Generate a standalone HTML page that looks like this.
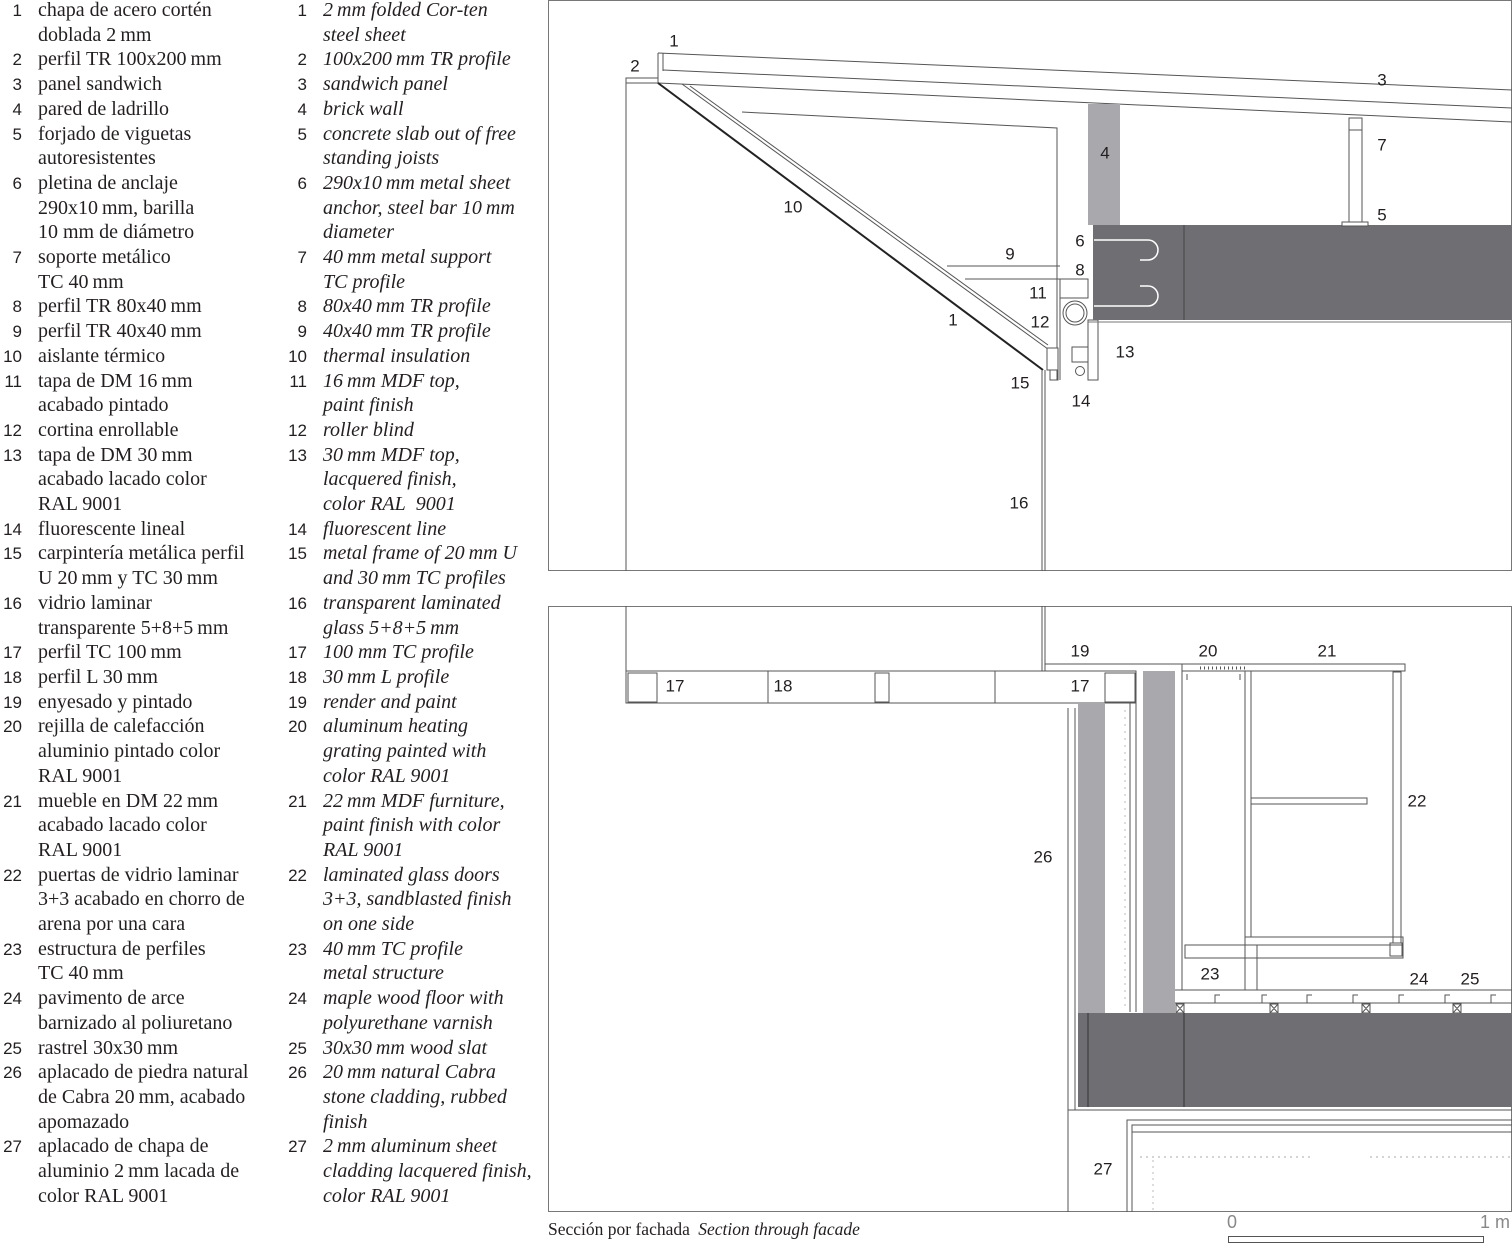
<!DOCTYPE html>
<html><head><meta charset="utf-8"><style>
body{margin:0;width:1512px;height:1255px;background:#fff;position:relative;overflow:hidden;font-family:"Liberation Serif",serif;color:#231f20}
.col{position:absolute;top:-2px;font-size:20px;line-height:24.7px}
.e{display:flex;align-items:flex-start;height:auto}
.n{width:22px;text-align:right;font-family:"Liberation Sans",sans-serif;font-size:17px;line-height:24.7px;flex:none;padding-top:1px;height:23.7px}
.t{margin-left:16px;white-space:nowrap}
.it .t{font-style:italic}
svg{position:absolute;left:0;top:0}
</style></head><body>
<div class="col" style="left:0">
<div class="e"><div class="n">1</div><div class="t">chapa de acero cortén<br>doblada 2&#8201;mm</div></div>
<div class="e"><div class="n">2</div><div class="t">perfil TR 100x200&#8201;mm</div></div>
<div class="e"><div class="n">3</div><div class="t">panel sandwich</div></div>
<div class="e"><div class="n">4</div><div class="t">pared de ladrillo</div></div>
<div class="e"><div class="n">5</div><div class="t">forjado de viguetas<br>autoresistentes</div></div>
<div class="e"><div class="n">6</div><div class="t">pletina de anclaje<br>290x10&#8201;mm, barilla<br>10 mm de diámetro</div></div>
<div class="e"><div class="n">7</div><div class="t">soporte metálico<br>TC 40&#8201;mm</div></div>
<div class="e"><div class="n">8</div><div class="t">perfil TR 80x40&#8201;mm</div></div>
<div class="e"><div class="n">9</div><div class="t">perfil TR 40x40&#8201;mm</div></div>
<div class="e"><div class="n">10</div><div class="t">aislante térmico</div></div>
<div class="e"><div class="n">11</div><div class="t">tapa de DM 16&#8201;mm<br>acabado pintado</div></div>
<div class="e"><div class="n">12</div><div class="t">cortina enrollable</div></div>
<div class="e"><div class="n">13</div><div class="t">tapa de DM 30&#8201;mm<br>acabado lacado color<br>RAL 9001</div></div>
<div class="e"><div class="n">14</div><div class="t">fluorescente lineal</div></div>
<div class="e"><div class="n">15</div><div class="t">carpintería metálica perfil<br>U 20&#8201;mm y TC 30&#8201;mm</div></div>
<div class="e"><div class="n">16</div><div class="t">vidrio laminar<br>transparente 5+8+5&#8201;mm</div></div>
<div class="e"><div class="n">17</div><div class="t">perfil TC 100&#8201;mm</div></div>
<div class="e"><div class="n">18</div><div class="t">perfil L 30&#8201;mm</div></div>
<div class="e"><div class="n">19</div><div class="t">enyesado y pintado</div></div>
<div class="e"><div class="n">20</div><div class="t">rejilla de calefacción<br>aluminio pintado color<br>RAL 9001</div></div>
<div class="e"><div class="n">21</div><div class="t">mueble en DM 22&#8201;mm<br>acabado lacado color<br>RAL 9001</div></div>
<div class="e"><div class="n">22</div><div class="t">puertas de vidrio laminar<br>3+3 acabado en chorro de<br>arena por una cara</div></div>
<div class="e"><div class="n">23</div><div class="t">estructura de perfiles<br>TC 40&#8201;mm</div></div>
<div class="e"><div class="n">24</div><div class="t">pavimento de arce<br>barnizado al poliuretano</div></div>
<div class="e"><div class="n">25</div><div class="t">rastrel 30x30&#8201;mm</div></div>
<div class="e"><div class="n">26</div><div class="t">aplacado de piedra natural<br>de Cabra 20&#8201;mm, acabado<br>apomazado</div></div>
<div class="e"><div class="n">27</div><div class="t">aplacado de chapa de<br>aluminio 2&#8201;mm lacada de<br>color RAL 9001</div></div>
</div>
<div class="col it" style="left:285px">
<div class="e"><div class="n">1</div><div class="t">2&#8201;mm folded Cor-ten<br>steel sheet</div></div>
<div class="e"><div class="n">2</div><div class="t">100x200&#8201;mm TR profile</div></div>
<div class="e"><div class="n">3</div><div class="t">sandwich panel</div></div>
<div class="e"><div class="n">4</div><div class="t">brick wall</div></div>
<div class="e"><div class="n">5</div><div class="t">concrete slab out of free<br>standing joists</div></div>
<div class="e"><div class="n">6</div><div class="t">290x10&#8201;mm metal sheet<br>anchor, steel bar 10&#8201;mm<br>diameter</div></div>
<div class="e"><div class="n">7</div><div class="t">40&#8201;mm metal support<br>TC profile</div></div>
<div class="e"><div class="n">8</div><div class="t">80x40&#8201;mm TR profile</div></div>
<div class="e"><div class="n">9</div><div class="t">40x40&#8201;mm TR profile</div></div>
<div class="e"><div class="n">10</div><div class="t">thermal insulation</div></div>
<div class="e"><div class="n">11</div><div class="t">16&#8201;mm MDF top,<br>paint finish</div></div>
<div class="e"><div class="n">12</div><div class="t">roller blind</div></div>
<div class="e"><div class="n">13</div><div class="t">30&#8201;mm MDF top,<br>lacquered finish,<br>color RAL&nbsp; 9001</div></div>
<div class="e"><div class="n">14</div><div class="t">fluorescent line</div></div>
<div class="e"><div class="n">15</div><div class="t">metal frame of 20&#8201;mm U<br>and 30&#8201;mm TC profiles</div></div>
<div class="e"><div class="n">16</div><div class="t">transparent laminated<br>glass 5+8+5&#8201;mm</div></div>
<div class="e"><div class="n">17</div><div class="t">100 mm TC profile</div></div>
<div class="e"><div class="n">18</div><div class="t">30&#8201;mm L profile</div></div>
<div class="e"><div class="n">19</div><div class="t">render and paint</div></div>
<div class="e"><div class="n">20</div><div class="t">aluminum heating<br>grating painted with<br>color RAL 9001</div></div>
<div class="e"><div class="n">21</div><div class="t">22&#8201;mm MDF furniture,<br>paint finish with color<br>RAL 9001</div></div>
<div class="e"><div class="n">22</div><div class="t">laminated glass doors<br>3+3, sandblasted finish<br>on one side</div></div>
<div class="e"><div class="n">23</div><div class="t">40&#8201;mm TC profile<br>metal structure</div></div>
<div class="e"><div class="n">24</div><div class="t">maple wood floor with<br>polyurethane varnish</div></div>
<div class="e"><div class="n">25</div><div class="t">30x30&#8201;mm wood slat</div></div>
<div class="e"><div class="n">26</div><div class="t">20&#8201;mm natural Cabra<br>stone cladding, rubbed<br>finish</div></div>
<div class="e"><div class="n">27</div><div class="t">2&#8201;mm aluminum sheet<br>cladding lacquered finish,<br>color RAL 9001</div></div>
</div>

<svg width="1512" height="1255" viewBox="0 0 1512 1255">
<g fill="none" stroke="#555" stroke-width="1">
<rect x="548.5" y="0.5" width="963" height="570" stroke="#777"/>
<line x1="626" y1="82" x2="626" y2="571"/>
<rect x="626" y="78" width="32" height="5"/>
<line x1="658" y1="53" x2="1512" y2="90"/>
<line x1="663" y1="70" x2="1512" y2="108"/>
<line x1="658" y1="83" x2="1512" y2="122"/>
<line x1="658" y1="53" x2="658" y2="83"/>
<line x1="663" y1="53" x2="663" y2="71"/>
<line x1="658" y1="83" x2="1043" y2="370" stroke="#222" stroke-width="2"/>
<line x1="682" y1="84" x2="1052" y2="352"/>
<line x1="690" y1="86" x2="1048" y2="345"/>
<polyline points="742,112 1057,128 1057,350"/>
<line x1="947" y1="266" x2="1060" y2="266"/>
<line x1="965" y1="279" x2="1060" y2="279"/>
<line x1="1060" y1="279" x2="1060" y2="380"/>
<line x1="1057" y1="350" x2="1057" y2="380"/>
<rect x="1047" y="348" width="11" height="22" fill="#fff"/>
<rect x="1050" y="370" width="8" height="10"/>
<line x1="1042" y1="370" x2="1042" y2="571"/>
<line x1="1045" y1="370" x2="1045" y2="571"/>
<rect x="1060" y="279" width="28" height="19"/>
<circle cx="1075" cy="313" r="12"/>
<circle cx="1075" cy="313" r="9"/>
<rect x="1088" y="320" width="10" height="60"/>
<rect x="1072" y="347" width="16" height="15"/>
<circle cx="1080" cy="371" r="4.5"/>
</g>
<rect x="1088" y="104" width="32" height="121" fill="#a9a8ad"/>
<rect x="1093" y="225" width="419" height="95" fill="#6f6e73"/>
<line x1="1184" y1="225" x2="1184" y2="320" stroke="#444"/>
<line x1="1088" y1="322" x2="1512" y2="322" stroke="#777"/>
<g fill="none" stroke="#fff" stroke-width="1.5">
<path d="M1094,240 H1148 A10,10 0 0 1 1148,260 H1140"/>
<path d="M1094,306 H1148 A10,10 0 0 0 1148,286 H1140"/>
</g>
<g fill="#fff" stroke="#555">
<rect x="1349" y="118" width="13" height="12"/>
<rect x="1349" y="130" width="13" height="92"/>
<rect x="1342" y="222" width="26" height="4"/>
</g>

<g fill="none" stroke="#555" stroke-width="1">
<rect x="548.5" y="606.5" width="963" height="605" stroke="#777"/>
<line x1="626" y1="606" x2="626" y2="671"/>
<line x1="1042" y1="606" x2="1042" y2="671"/>
<line x1="1045" y1="606" x2="1045" y2="671"/>
<line x1="1045" y1="664" x2="1182" y2="664"/>
<rect x="626" y="671" width="510" height="32"/>
<rect x="628" y="673" width="29" height="29"/>
<rect x="875" y="673" width="14" height="29"/>
<line x1="768" y1="671" x2="768" y2="703"/>
<line x1="995" y1="671" x2="995" y2="703"/>
<rect x="1105" y="673" width="30" height="29"/>
<line x1="1068" y1="708" x2="1068" y2="1212"/>
<line x1="1075" y1="708" x2="1075" y2="1110"/>
<line x1="1136" y1="703" x2="1136" y2="1012"/>
<line x1="1130" y1="703" x2="1130" y2="1012"/>
<rect x="1182" y="664" width="223" height="7"/>
<line x1="1182" y1="671" x2="1182" y2="990"/>
<line x1="1245" y1="671" x2="1245" y2="945"/>
<line x1="1251" y1="671" x2="1251" y2="937"/>
<rect x="1251" y="798" width="116" height="6"/>
<rect x="1393" y="672" width="8" height="271"/>
<rect x="1245" y="937" width="158" height="8"/>
<rect x="1185" y="945" width="218" height="13"/>
<rect x="1245" y="945" width="12" height="13"/>
<rect x="1390" y="943" width="12" height="13"/>
<line x1="1245" y1="958" x2="1245" y2="990"/>
<line x1="1257" y1="958" x2="1257" y2="990"/>
<line x1="1175" y1="990" x2="1512" y2="990"/>
<line x1="1175" y1="1003" x2="1512" y2="1003"/>
<path d="M1220,995 h-5 v8 M1267,995 h-5 v8 M1312,995 h-5 v8 M1358,995 h-5 v8 M1404,995 h-5 v8 M1450,995 h-5 v8 M1496,995 h-5 v8"/>
<path d="M1176,1004 h8 v9 h-8z M1176,1004 l8,9 M1184,1004 l-8,9 M1270,1004 h8 v9 h-8z M1270,1004 l8,9 M1278,1004 l-8,9 M1362,1004 h8 v9 h-8z M1362,1004 l8,9 M1370,1004 l-8,9 M1453,1004 h8 v9 h-8z M1453,1004 l8,9 M1461,1004 l-8,9"/>
<path d="M1187,674 v6 M1240,674 v6"/>
<line x1="1068" y1="1110" x2="1512" y2="1110"/>
<path d="M1127,1212 V1120 H1512 M1132,1212 V1125 H1512 M1132,1132 H1512"/>
<line x1="1140" y1="1157" x2="1310" y2="1157" stroke="#aaa" stroke-dasharray="2,4"/>
<line x1="1370" y1="1157" x2="1512" y2="1157" stroke="#aaa" stroke-dasharray="2,4"/>
<line x1="1153" y1="1160" x2="1153" y2="1212" stroke="#bbb" stroke-dasharray="2,4"/>
<line x1="1125" y1="710" x2="1125" y2="1010" stroke="#bbb" stroke-dasharray="2,5"/>
</g>
<path d="M1200,668 h45" stroke="#555" stroke-width="3" stroke-dasharray="1,3"/>
<rect x="1078" y="703" width="27" height="310" fill="#a9a8ad"/>
<rect x="1143" y="671" width="32" height="342" fill="#a9a8ad"/>
<rect x="1078" y="1013" width="434" height="94" fill="#6f6e73"/>
<line x1="1088" y1="1013" x2="1088" y2="1107" stroke="#333"/>
<line x1="1184" y1="1013" x2="1184" y2="1107" stroke="#333"/>
<rect x="1228.5" y="1236.5" width="255" height="6" fill="none" stroke="#555"/>
<g font-family="Liberation Sans, sans-serif" font-size="18" fill="#888"><text x="1227" y="1228">0</text><text x="1480" y="1228">1 m</text></g>
<text x="548" y="1235" font-family="Liberation Serif, serif" font-size="17.5" fill="#231f20">Sección por fachada <tspan font-style="italic" dx="4">Section through facade</tspan></text>
<g font-family="Liberation Sans, sans-serif" font-size="17" fill="#231f20" text-anchor="middle" dominant-baseline="central">
<text x="674" y="41">1</text><text x="635" y="66">2</text><text x="1382" y="80">3</text><text x="1105" y="153">4</text>
<text x="793" y="207">10</text><text x="1010" y="254">9</text><text x="1080" y="241">6</text><text x="1080" y="270">8</text>
<text x="1038" y="293">11</text><text x="1040" y="322">12</text><text x="953" y="320">1</text><text x="1125" y="352">13</text>
<text x="1020" y="383">15</text><text x="1081" y="401">14</text><text x="1019" y="503">16</text><text x="1382" y="145">7</text><text x="1382" y="215">5</text>
<text x="1080" y="651">19</text><text x="1208" y="651">20</text><text x="1327" y="651">21</text>
<text x="675" y="686">17</text><text x="783" y="686">18</text><text x="1080" y="686">17</text>
<text x="1417" y="801">22</text><text x="1043" y="857">26</text><text x="1210" y="974">23</text>
<text x="1419" y="979">24</text><text x="1470" y="979">25</text><text x="1103" y="1169">27</text>
</g>
</svg>
</body></html>
